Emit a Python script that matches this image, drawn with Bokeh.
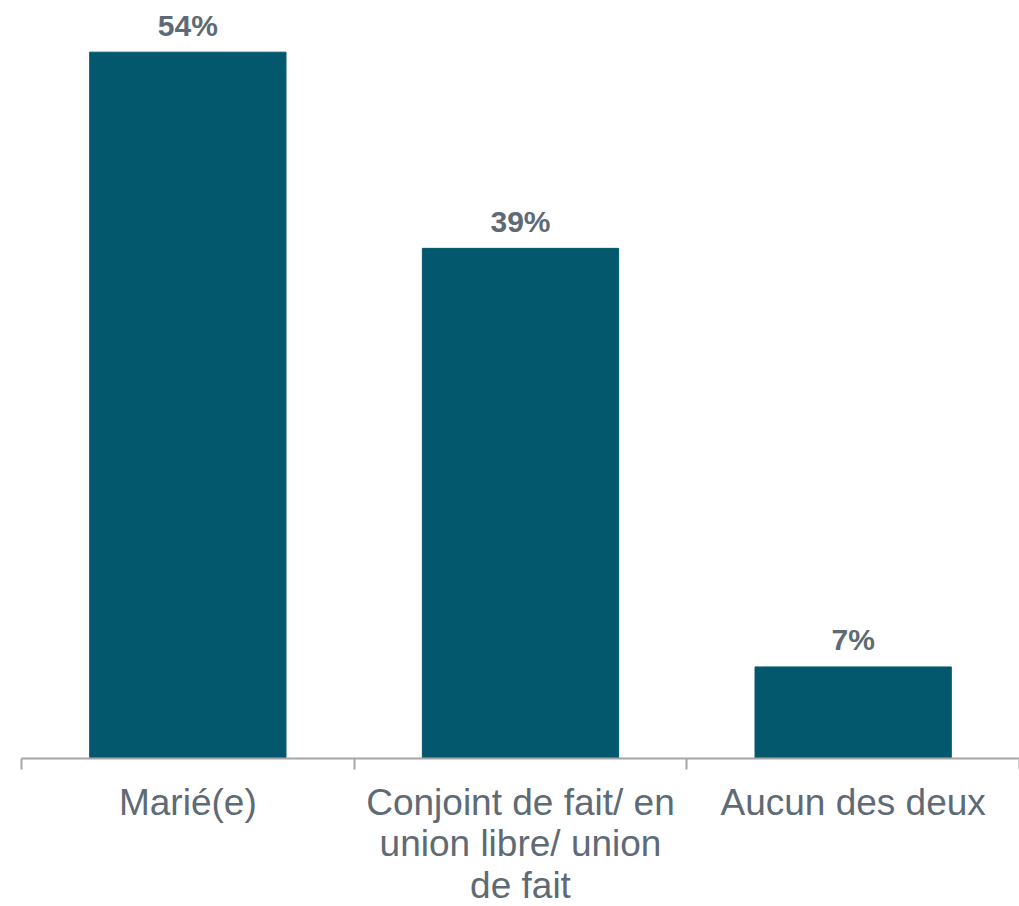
from bokeh.plotting import figure
from bokeh.models import Range1d, FixedTicker
from bokeh.core.properties import value
from bokeh.embed import file_html
from bokeh.resources import INLINE

categories = ["Marié(e)", "Conjoint de fait/ en union libre/ union de fait", "Aucun des deux"]
tick_labels = ["Marié(e)", "Conjoint de fait/ en\nunion libre/ union\nde fait", "Aucun des deux"]
values = [54, 39, 7]
value_labels = ["54%", "39%", "7%"]

BAR = "#03586E"
TEXT = "#5E6A75"
AXIS = "#A6A6A6"

xs = [i + 0.5 for i in range(len(categories))]
baseline = [0 for _ in categories]
boundaries = list(range(len(categories) + 1))

p = figure(width=1019, height=906, output_backend="svg", toolbar_location=None,
           x_range=Range1d(0, len(categories)), y_range=Range1d(0, 57.95),
           min_border_left=21, min_border_right=0, min_border_top=0, min_border_bottom=148)
p.outline_line_color = None
p.xgrid.visible = False
p.ygrid.visible = False
p.yaxis.visible = False

p.vbar(x=xs, top=values, width=0.59, color=BAR)
p.text(x=xs, y=values, text=value_labels, text_align="center", text_baseline="alphabetic",
       y_offset=-27, text_font=value("Liberation Sans"), text_font_style="bold",
       text_font_size="30px", text_color=TEXT)

# category labels drawn below the axis (overlay level so they are not clipped)
p.text(x=xs, y=baseline, text=tick_labels, text_align="center", text_baseline="top",
       y_offset=23, text_font=value("Liberation Sans"), text_font_size="37px",
       text_color=TEXT, text_line_height=1.02, level="overlay")

ax = p.xaxis[0]
ax.ticker = FixedTicker(ticks=[], minor_ticks=boundaries)
ax.major_label_standoff = 0
ax.axis_line_color = AXIS
ax.axis_line_width = 2
ax.major_tick_line_color = None
ax.major_tick_out = 0
ax.major_tick_in = 0
ax.minor_tick_line_color = AXIS
ax.minor_tick_line_width = 2
ax.minor_tick_out = 11
ax.minor_tick_in = 0

open("out.html", "w").write(file_html(p, INLINE))
